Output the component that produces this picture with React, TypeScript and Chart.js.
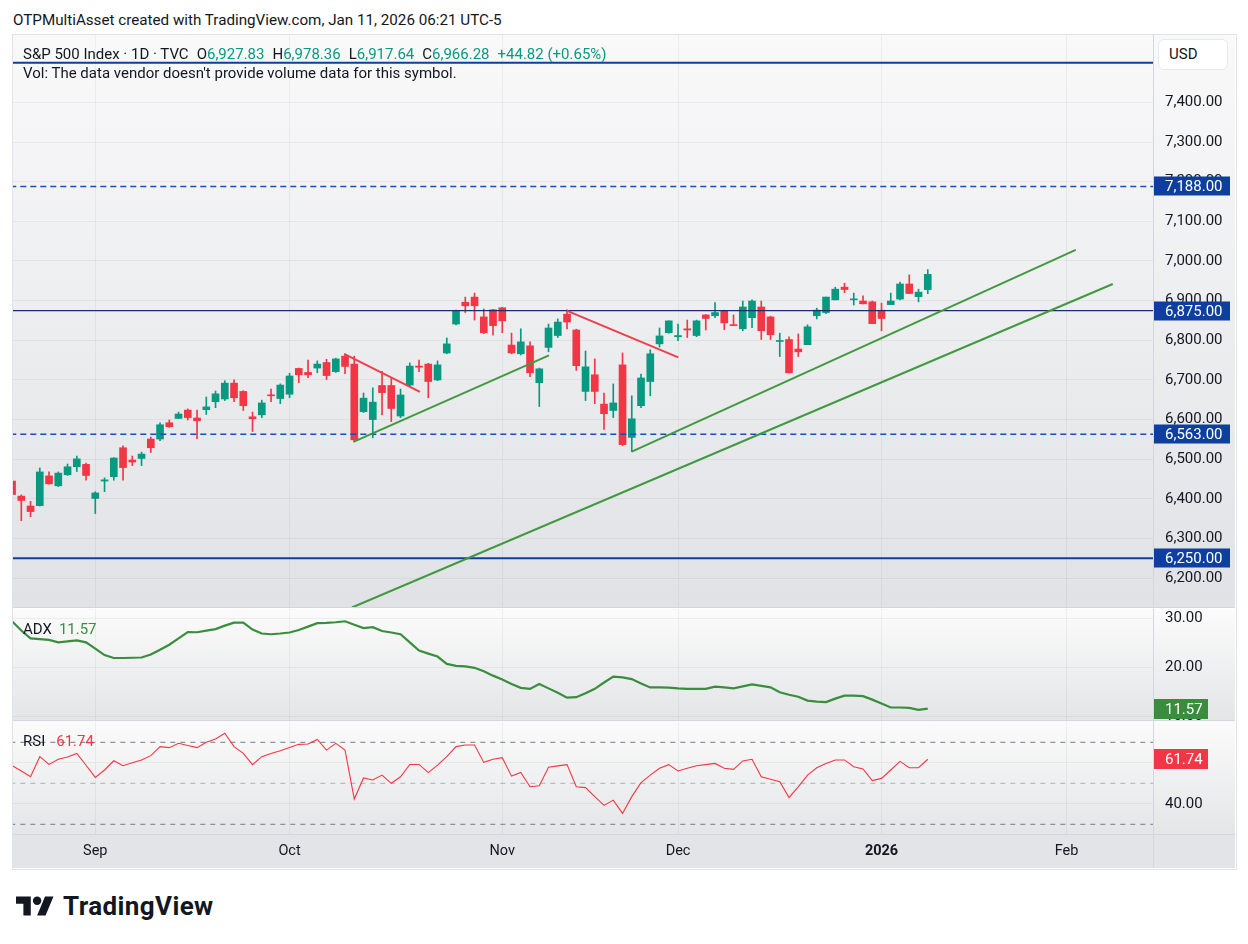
import React, { useEffect, useRef } from "react";
import { Chart, registerables } from "chart.js";

Chart.register(...registerables);

// ---------------- DATA ----------------
const symbolName = "S&P 500 Index · 1D · TVC";
const headerText = "OTPMultiAsset created with TradingView.com, Jan 11, 2026 06:21 UTC-5";
const volText = "Vol: The data vendor doesn't provide volume data for this symbol.";

const tradingDays = [
  "2025-08-19", "2025-08-20", "2025-08-21", "2025-08-22", "2025-08-25", "2025-08-26", "2025-08-27", "2025-08-28", "2025-08-29",
  "2025-09-02", "2025-09-03", "2025-09-04", "2025-09-05", "2025-09-08", "2025-09-09", "2025-09-10", "2025-09-11", "2025-09-12",
  "2025-09-15", "2025-09-16", "2025-09-17", "2025-09-18", "2025-09-19", "2025-09-22", "2025-09-23", "2025-09-24", "2025-09-25",
  "2025-09-26", "2025-09-29", "2025-09-30",
  "2025-10-01", "2025-10-02", "2025-10-03", "2025-10-06", "2025-10-07", "2025-10-08", "2025-10-09", "2025-10-10", "2025-10-13",
  "2025-10-14", "2025-10-15", "2025-10-16", "2025-10-17", "2025-10-20", "2025-10-21", "2025-10-22", "2025-10-23", "2025-10-24",
  "2025-10-27", "2025-10-28", "2025-10-29", "2025-10-30", "2025-10-31",
  "2025-11-03", "2025-11-04", "2025-11-05", "2025-11-06", "2025-11-07", "2025-11-10", "2025-11-11", "2025-11-12", "2025-11-13",
  "2025-11-14", "2025-11-17", "2025-11-18", "2025-11-19", "2025-11-20", "2025-11-21", "2025-11-24", "2025-11-25", "2025-11-26",
  "2025-11-28",
  "2025-12-01", "2025-12-02", "2025-12-03", "2025-12-04", "2025-12-05", "2025-12-08", "2025-12-09", "2025-12-10", "2025-12-11",
  "2025-12-12", "2025-12-15", "2025-12-16", "2025-12-17", "2025-12-18", "2025-12-19", "2025-12-22", "2025-12-23", "2025-12-24",
  "2025-12-26", "2025-12-29", "2025-12-30", "2025-12-31",
  "2026-01-02", "2026-01-05", "2026-01-06", "2026-01-07", "2026-01-08", "2026-01-09",
];
// bar number of the first trading day, counted from Sep 2 (= 0)
const FIRST_BAR = -9;

const opens = [
  6445, 6407, 6382, 6383, 6458, 6433, 6461, 6481, 6487,
  6401, 6445, 6456, 6529, 6498, 6502, 6551, 6551, 6592, 6603, 6624, 6604, 6625, 6645, 6652, 6692, 6671, 6607, 6612, 6662, 6653,
  6664, 6729, 6719, 6730, 6744, 6721, 6760, 6740, 6620, 6600, 6686, 6686, 6609, 6687, 6735, 6740, 6700, 6768, 6841, 6896, 6909, 6859, 6877,
  6882, 6788, 6766, 6786, 6693, 6782, 6812, 6866, 6826, 6671, 6713, 6639, 6623, 6738, 6555, 6635, 6696, 6791, 6819,
  6809, 6829, 6812, 6864, 6862, 6874, 6839, 6829, 6857, 6884, 6859, 6797, 6802, 6778, 6789, 6862, 6870, 6902, 6934, 6902, 6899, 6897,
  6876, 6890, 6904, 6942, 6910, 6927.83,
];
const highs = [
  6449, 6410, 6394, 6478, 6468, 6468, 6488, 6508, 6490,
  6418, 6453, 6504, 6534, 6508, 6518, 6556, 6592, 6599, 6619, 6627, 6624, 6657, 6672, 6698, 6700, 6673, 6619, 6649, 6677, 6690,
  6717, 6730, 6750, 6748, 6752, 6755, 6765, 6760, 6667, 6680, 6722, 6705, 6677, 6743, 6750, 6742, 6748, 6806, 6876, 6909, 6919, 6879, 6878,
  6883, 6818, 6829, 6796, 6730, 6841, 6854, 6877, 6828, 6773, 6753, 6667, 6690, 6768, 6660, 6715, 6776, 6831, 6849,
  6841, 6851, 6851, 6865, 6895, 6876, 6864, 6899, 6902, 6899, 6861, 6818, 6809, 6816, 6839, 6881, 6909, 6934, 6944, 6919, 6912, 6899,
  6894, 6919, 6947, 6965, 6929, 6978.36,
];
const lows = [
  6406, 6345, 6355, 6382, 6437, 6431, 6459, 6469, 6447,
  6363, 6418, 6447, 6447, 6484, 6484, 6517, 6547, 6580, 6603, 6599, 6552, 6613, 6630, 6648, 6645, 6623, 6570, 6605, 6645, 6640,
  6655, 6693, 6706, 6718, 6701, 6719, 6716, 6545, 6618, 6554, 6612, 6595, 6605, 6685, 6721, 6655, 6698, 6766, 6839, 6870, 6851, 6817, 6813,
  6819, 6766, 6763, 6708, 6633, 6771, 6807, 6829, 6724, 6648, 6640, 6575, 6605, 6534, 6519, 6630, 6660, 6783, 6818,
  6799, 6807, 6809, 6826, 6857, 6827, 6837, 6824, 6832, 6802, 6802, 6759, 6718, 6759, 6789, 6854, 6867, 6902, 6920, 6889, 6892, 6842,
  6824, 6890, 6902, 6918, 6897, 6917.64,
];
const closes = [
  6411, 6396, 6368, 6468, 6438, 6465, 6481, 6501, 6459,
  6415, 6448, 6503, 6479, 6493, 6513, 6529, 6587, 6582, 6614, 6605, 6597, 6632, 6665, 6692, 6655, 6635, 6602, 6642, 6660, 6687,
  6710, 6713, 6713, 6740, 6711, 6753, 6734, 6549, 6654, 6644, 6668, 6628, 6662, 6735, 6732, 6696, 6738, 6791, 6873, 6887, 6887, 6819, 6837,
  6849, 6768, 6796, 6718, 6728, 6831, 6846, 6846, 6736, 6733, 6671, 6615, 6642, 6537, 6602, 6705, 6766, 6811, 6849,
  6812, 6826, 6849, 6855, 6870, 6844, 6837, 6884, 6899, 6824, 6814, 6799, 6718, 6771, 6834, 6876, 6909, 6929, 6928, 6904, 6892, 6842,
  6855, 6899, 6942, 6918, 6921.46, 6966.28,
];
const adx = [
  29.4, 27.5, 25.9, 25.75, 25.6, 25.1, 25.3, 25.5, 25.1,
  23.8, 22.5, 21.9, 21.9, 21.95, 22.0, 22.6, 23.6, 24.6, 25.9, 27.2, 27.15, 27.5, 27.8, 28.5, 29.1, 29.1, 27.7, 26.9, 26.75, 26.9,
  27.1, 27.6, 28.3, 29.0, 29.05, 29.2, 29.4, 28.7, 28.0, 28.2, 27.4, 27.1, 26.75, 25.1, 23.4, 22.8, 22.2, 20.7, 20.3, 20.2, 19.9, 19.2, 18.3,
  17.5, 16.6, 15.8, 15.6, 16.6, 15.7, 14.8, 13.8, 13.9, 14.7, 15.6, 16.9, 18.1, 17.95, 17.6, 16.7, 15.9, 15.9, 15.86,
  15.7, 15.6, 15.6, 15.6, 16.05, 15.9, 15.7, 16.1, 16.5, 16.2, 15.9, 14.9, 14.4, 14.0, 13.2, 13.0, 12.9, 13.6, 14.2, 14.2, 14.1, 13.4,
  12.6, 11.8, 11.8, 11.7, 11.3, 11.57,
];
const rsi = [
  58.6, 56.0, 53.2, 63.0, 59.2, 61.7, 62.8, 64.6, 58.8,
  52.9, 56.5, 61.0, 58.6, 60.0, 61.4, 63.5, 67.9, 67.4, 69.5, 68.4, 67.4, 70.0, 71.6, 74.4, 67.9, 64.6, 59.1, 63.0, 64.5, 65.9,
  67.5, 69.0, 69.2, 71.4, 66.2, 69.5, 66.2, 42.3, 52.6, 51.6, 54.0, 50.0, 53.2, 59.2, 59.2, 55.2, 58.9, 63.0, 67.9, 68.7, 68.7, 60.2, 61.7,
  62.5, 53.5, 55.3, 48.3, 48.8, 57.8, 58.5, 59.1, 48.3, 47.9, 43.5, 39.2, 41.8, 35.3, 43.5, 50.3, 54.0, 57.3, 59.1,
  56.0, 57.3, 58.6, 59.1, 59.7, 57.3, 56.8, 60.9, 61.7, 53.2, 52.0, 50.8, 43.1, 48.3, 54.0, 57.6, 59.7, 61.4, 61.4, 58.1, 57.0, 51.3,
  52.4, 56.5, 60.7, 57.6, 57.6, 61.74,
];

const monthLabels = ["Sep", "Oct", "Nov", "Dec", "2026", "Feb"];
const monthBars = [0, 21, 44, 63, 85, 105];
const priceTicks = [6200, 6300, 6400, 6500, 6600, 6700, 6800, 6900, 7000, 7100, 7200, 7300, 7400];
const adxTicks = [10, 20, 30];
const rsiTicks = [40, 60];
const rsiBands = [70, 50, 30];

// horizontal levels drawn on the chart
const solidLevels = [7500, 6250];
const dashedLevels = [7188, 6563];
const thinLevels = [6875];
const labelledLevels = [7188, 6875, 6563, 6250];

// trend lines: [barFrom, priceFrom, barTo, priceTo]
const supportLines = [
  [27.9, 6544, 49.05, 6762],
  [58.0, 6519, 106.0, 7028],
  [27.75, 6126, 110.0, 6942],
];
const resistanceLines = [
  [26.9, 6766, 35.1, 6670],
  [50.96, 6875, 63.03, 6757],
];

// ---------------- STYLE ----------------
const FONT = 'Roboto, "Liberation Sans", Arial, sans-serif';
const TEXT = "#131722";
const UP = "#089981";
const DOWN = "#f23645";
const GRID = "rgba(42,46,57,0.06)";
const LEVEL_BLUE = "#0f3f9e";
const ADX_GREEN = "#388e3c";
const TREND_GREEN = "#3f9a3f";
const TREND_RED = "#f03e4c";
const SEP = "#d3d6dd";

const X_MIN = -8.897;
const X_MAX = 114.35;
const AXIS_W = 82;
const PANE_W = 1140;
const CANVAS_W = PANE_W + AXIS_W;

const barX = tradingDays.map((_, k) => k + FIRST_BAR);
const candleColors = closes.map((c, k) => (c >= opens[k] ? UP : DOWN));
const fmt2 = (v: number) =>
  v.toLocaleString("en-US", { minimumFractionDigits: 2, maximumFractionDigits: 2 });

const last = closes.length - 1;
const change = closes[last] - closes[last - 1];
const changePct = (change / closes[last - 1]) * 100;

const noPad = (s: any) => {
  s.paddingTop = 0;
  s.paddingBottom = 0;
  s.paddingLeft = 0;
  s.paddingRight = 0;
};

function xScale(withLabels: boolean): any {
  return {
    type: "linear",
    min: X_MIN,
    max: X_MAX,
    offset: false,
    position: "bottom",
    grid: { color: GRID, drawTicks: false, offset: false },
    border: { display: false },
    afterBuildTicks: (s: any) => {
      s.ticks = monthBars.map((v) => ({ value: v }));
    },
    afterFit: (s: any) => {
      s.height = withLabels ? 33 : 0;
      noPad(s);
    },
    ticks: withLabels
      ? {
          autoSkip: false,
          maxRotation: 0,
          padding: 8,
          color: TEXT,
          font: (c: any) => ({
            family: FONT,
            size: 14.5,
            weight: c.tick && c.tick.value === 85 ? "bold" : "normal",
          }),
          callback: (v: any) => {
            const k = monthBars.indexOf(v);
            return k >= 0 ? monthLabels[k] : "";
          },
        }
      : { display: false },
  };
}

function yScale(min: number, max: number, ticks: number[]): any {
  return {
    type: "linear",
    position: "right",
    min,
    max,
    grid: { color: GRID, drawTicks: false },
    border: { display: false },
    afterBuildTicks: (s: any) => {
      s.ticks = ticks.map((v) => ({ value: v }));
    },
    afterFit: (s: any) => {
      s.width = AXIS_W;
      noPad(s);
    },
    ticks: {
      padding: 12,
      color: TEXT,
      font: { family: FONT, size: 15 },
      callback: (v: any) => fmt2(Number(v)),
    },
  };
}

function bgPlugin(top: string, bottom: string): any {
  return {
    id: "bg",
    beforeDraw(chart: any) {
      const { ctx, chartArea, width, height } = chart;
      ctx.save();
      const g = ctx.createLinearGradient(0, chartArea.top, 0, chartArea.bottom);
      g.addColorStop(0, top);
      g.addColorStop(1, bottom);
      ctx.fillStyle = g;
      ctx.fillRect(0, 0, width, chartArea.bottom);
      if (height > chartArea.bottom) {
        ctx.fillStyle = "#e3e4e7";
        ctx.fillRect(0, chartArea.bottom, width, height - chartArea.bottom);
      }
      ctx.restore();
    },
    afterDraw(chart: any) {
      const { ctx, chartArea, height } = chart;
      ctx.save();
      ctx.strokeStyle = SEP;
      ctx.lineWidth = 1;
      ctx.beginPath();
      ctx.moveTo(chartArea.right + 0.5, 0);
      ctx.lineTo(chartArea.right + 0.5, height);
      ctx.moveTo(0, chartArea.bottom - 0.5);
      ctx.lineTo(chart.width, chartArea.bottom - 0.5);
      ctx.stroke();
      ctx.restore();
    },
  };
}

function boxPlugin(items: { value: number; text: string; color: string; w: number; h: number }[]): any {
  return {
    id: "boxes",
    afterDraw(chart: any) {
      const { ctx, chartArea } = chart;
      const y = chart.scales.y;
      ctx.save();
      items.forEach((it) => {
        const py = Math.round(y.getPixelForValue(it.value));
        ctx.fillStyle = it.color;
        ctx.fillRect(chartArea.right + 1, py - it.h / 2, it.w, it.h);
        ctx.fillStyle = "#ffffff";
        ctx.font = `15px ${FONT}`;
        ctx.textBaseline = "middle";
        ctx.textAlign = "left";
        ctx.fillText(it.text, chartArea.right + 12, py + 1);
      });
      ctx.restore();
    },
  };
}

function lineDs(points: { x: number; y: number }[], color: string, width: number, dash: number[] = [], order = 1): any {
  return {
    type: "line",
    data: points,
    borderColor: color,
    borderWidth: width,
    borderDash: dash,
    pointRadius: 0,
    fill: false,
    tension: 0,
    clip: 0,
    order,
  };
}

const baseOptions = {
  animation: false,
  responsive: false,
  maintainAspectRatio: false,
  events: [],
  layout: { padding: 0 },
  plugins: { legend: { display: false }, tooltip: { enabled: false } },
};

function priceConfig(): any {
  const datasets: any[] = [
    {
      type: "bar",
      data: barX.map((x, k) => ({ x, y: [lows[k], highs[k]] })),
      backgroundColor: candleColors,
      borderWidth: 0,
      barThickness: 1,
      grouped: false,
      order: 4,
    },
    {
      type: "bar",
      data: barX.map((x, k) => ({ x, y: [opens[k], closes[k]] })),
      backgroundColor: candleColors,
      borderWidth: 0,
      barThickness: 7,
      minBarLength: 1,
      grouped: false,
      order: 3,
    },
  ];
  solidLevels.forEach((v) => datasets.push(lineDs([{ x: -20, y: v }, { x: 130, y: v }], LEVEL_BLUE, 2)));
  dashedLevels.forEach((v) => datasets.push(lineDs([{ x: -20, y: v }, { x: 130, y: v }], "#1550b0", 1.5, [6, 4])));
  thinLevels.forEach((v) => datasets.push(lineDs([{ x: -20, y: v }, { x: 130, y: v }], "#1b2f66", 1.3)));
  supportLines.forEach((l) => datasets.push(lineDs([{ x: l[0], y: l[1] }, { x: l[2], y: l[3] }], TREND_GREEN, 2, [], 0)));
  resistanceLines.forEach((l) => datasets.push(lineDs([{ x: l[0], y: l[1] }, { x: l[2], y: l[3] }], TREND_RED, 2, [], 0)));

  return {
    type: "bar",
    data: { datasets },
    options: {
      ...baseOptions,
      scales: { x: xScale(false), y: yScale(6124.8, 7570, priceTicks) },
    },
    plugins: [
      bgPlugin("#f9f9fa", "#e1e2e5"),
      boxPlugin(labelledLevels.map((v) => ({ value: v, text: fmt2(v), color: LEVEL_BLUE, w: 76, h: 19 }))),
    ],
  };
}

function adxConfig(): any {
  return {
    type: "line",
    data: {
      datasets: [lineDs(barX.map((x, k) => ({ x, y: adx[k] })), ADX_GREEN, 2.2)],
    },
    options: {
      ...baseOptions,
      scales: { x: xScale(false), y: yScale(9.04, 31.9, adxTicks) },
    },
    plugins: [
      bgPlugin("#fbfbfb", "#e4e5e7"),
      boxPlugin([{ value: adx[last], text: adx[last].toFixed(2), color: ADX_GREEN, w: 54, h: 20 }]),
    ],
  };
}

function rsiConfig(): any {
  const datasets: any[] = [lineDs(barX.map((x, k) => ({ x, y: rsi[k] })), DOWN, 1.1, [], 0)];
  rsiBands.forEach((v, k) =>
    datasets.push(
      lineDs([{ x: -20, y: v }, { x: 130, y: v }], k === 1 ? "rgba(120,123,134,0.55)" : "#787b86", 1, [5, 5], 2)
    )
  );
  return {
    type: "line",
    data: { datasets },
    options: {
      ...baseOptions,
      scales: { x: xScale(true), y: yScale(24.78, 80.39, rsiTicks) },
    },
    plugins: [
      bgPlugin("#fbfbfb", "#e4e5e7"),
      boxPlugin([{ value: rsi[last], text: rsi[last].toFixed(2), color: DOWN, w: 54, h: 20 }]),
    ],
  };
}

export default function App() {
  const priceRef = useRef<HTMLCanvasElement>(null);
  const adxRef = useRef<HTMLCanvasElement>(null);
  const rsiRef = useRef<HTMLCanvasElement>(null);

  useEffect(() => {
    const charts = [
      new Chart(priceRef.current as HTMLCanvasElement, priceConfig()),
      new Chart(adxRef.current as HTMLCanvasElement, adxConfig()),
      new Chart(rsiRef.current as HTMLCanvasElement, rsiConfig()),
    ];
    return () => charts.forEach((c) => c.destroy());
  }, []);

  const abs = (left: number, top: number, extra: any = {}): any => ({ position: "absolute", left, top, ...extra });
  const text: any = { fontFamily: FONT, color: TEXT, whiteSpace: "pre" };
  const ohlc = [
    ["O", opens[last]],
    ["H", highs[last]],
    ["L", lows[last]],
    ["C", closes[last]],
  ] as [string, number][];

  return (
    <div style={abs(0, 0, { width: 1248, height: 944, background: "#ffffff", overflow: "hidden" })}>
      <div style={abs(13, 10, { ...text, fontSize: 15.2, lineHeight: "20px" })}>{headerText}</div>

      <div style={abs(12, 34, { width: 1223, height: 834, border: "1px solid #e0e3eb", boxSizing: "content-box" })} />

      <canvas ref={priceRef} width={CANVAS_W} height={573} style={abs(13, 35, { width: CANVAS_W, height: 573 })} />
      <canvas ref={adxRef} width={CANVAS_W} height={112} style={abs(13, 609, { width: CANVAS_W, height: 112 })} />
      <canvas ref={rsiRef} width={CANVAS_W} height={147} style={abs(13, 721, { width: CANVAS_W, height: 147 })} />

      <div style={abs(23, 44, { ...text, fontSize: 15, lineHeight: "20px" })}>
        <span>{symbolName}</span>
        {ohlc.map(([k, v]) => (
          <span key={k} style={{ marginLeft: 8 }}>
            {k}
            <span style={{ color: UP }}>{fmt2(v)}</span>
          </span>
        ))}
        <span style={{ marginLeft: 8, color: change >= 0 ? UP : DOWN }}>
          {`${change >= 0 ? "+" : ""}${fmt2(change)} (${change >= 0 ? "+" : ""}${changePct.toFixed(2)}%)`}
        </span>
      </div>
      <div style={abs(23, 63, { ...text, fontSize: 15, lineHeight: "20px" })}>{volText}</div>

      <div style={abs(23, 619, { ...text, fontSize: 15, lineHeight: "20px" })}>
        ADX<span style={{ color: ADX_GREEN, marginLeft: 7 }}>{adx[last].toFixed(2)}</span>
      </div>
      <div style={abs(23, 731, { ...text, fontSize: 15, lineHeight: "20px" })}>
        RSI<span style={{ color: DOWN, marginLeft: 11 }}>{rsi[last].toFixed(2)}</span>
      </div>

      <div
        style={abs(1158, 39, {
          width: 70,
          height: 31,
          background: "#ffffff",
          border: "1px solid #e6e8ee",
          borderRadius: 6,
          boxSizing: "border-box",
          ...text,
          fontSize: 15,
          lineHeight: "29px",
          paddingLeft: 10,
        })}
      >
        USD
      </div>

      <svg style={abs(16, 892)} width={38} height={30} viewBox="0 0 36 28">
        <path d="M14 22H7V11H0V4h14v18zM28 22h-8l7.5-18h8L28 22z" fill="#131722" />
        <circle cx="20" cy="8" r="4" fill="#131722" />
      </svg>
      <div style={abs(63, 890, { ...text, fontSize: 26, fontWeight: 700, lineHeight: "32px", letterSpacing: 0.4 })}>
        TradingView
      </div>
    </div>
  );
}
